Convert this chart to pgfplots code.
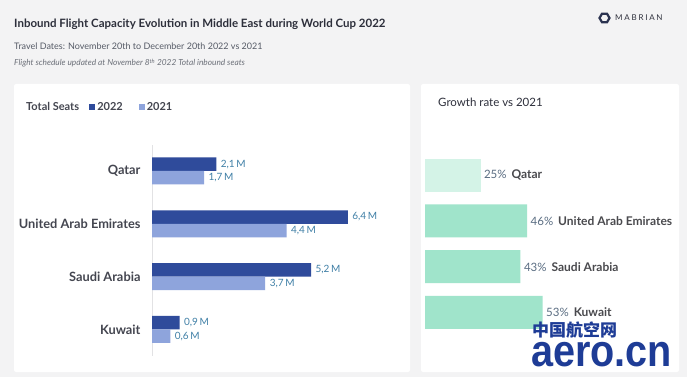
\documentclass[border=0pt]{standalone}
\usepackage{fontspec}
\setmainfont{Lato}
\newfontfamily\cjk{Noto Sans CJK SC}
\newfontfamily\wmfont{Liberation Sans}
\usepackage{pgfplots}
\pgfplotsset{compat=1.18}
\definecolor{bg}{HTML}{F3F3F4}
\definecolor{titlecol}{HTML}{2D2F3B}
\definecolor{subcol}{HTML}{555A66}
\definecolor{notecol}{HTML}{6B6F78}
\definecolor{darkbar}{HTML}{2F4B9B}
\definecolor{lightbar}{HTML}{8EA4DC}
\definecolor{valcol}{HTML}{3F7FA6}
\definecolor{tickcol}{HTML}{444650}
\definecolor{linecol}{HTML}{E2E2E4}
\definecolor{mintlight}{HTML}{D4F3E7}
\definecolor{mint}{HTML}{A0E4CB}
\definecolor{pctcol}{HTML}{5A6D82}
\definecolor{namecol}{HTML}{4A4A4E}
\definecolor{wmblue}{HTML}{1E3C96}
\definecolor{logocol}{HTML}{2B3350}
\begin{document}
\begin{tikzpicture}
\fill[bg] (0pt,0pt) rectangle (687pt,377pt);
\fill[white, rounded corners=2pt] (14pt,5pt) rectangle (410pt,293pt);
\fill[white, rounded corners=2pt] (421pt,5pt) rectangle (679pt,293pt);
% header
\node[anchor=base west, inner sep=0pt, text=titlecol, font=\fontsize{11.5}{14}\selectfont\bfseries] at (14pt,349.3pt) {Inbound Flight Capacity Evolution in Middle East during World Cup 2022};
\node[anchor=base west, inner sep=0pt, text=subcol, font=\fontsize{9}{11}\selectfont] at (14pt,327pt) {Travel Dates: November 20th to December 20th 2022 vs 2021};
\node[anchor=base west, inner sep=0pt, text=notecol, font=\fontsize{8.3}{10}\selectfont\itshape] at (14pt,311pt) {Flight schedule updated at November 8\textsuperscript{th} 2022 Total inbound seats};
% logo
\draw[logocol, line width=2.2pt] (609.5pt,359pt) -- (607pt,363.3pt) -- (602pt,363.3pt) -- (599.5pt,359pt) -- (602pt,354.7pt) -- (607pt,354.7pt) -- cycle;
\node[anchor=west, inner sep=0pt, text=titlecol, font=\fontsize{8}{9}\selectfont\addfontfeatures{LetterSpace=22}] at (615pt,359pt) {MABRIAN};
% panel titles
\node[anchor=base west, inner sep=0pt, text=tickcol, font=\fontsize{11}{13}\selectfont\bfseries] at (26pt,266pt) {Total Seats};
\node[anchor=base west, inner sep=0pt, text=titlecol, font=\fontsize{11.5}{13}\selectfont] at (438pt,270pt) {Growth rate vs 2021};
% left chart
\begin{axis}[
  at={(152pt,21.2pt)}, anchor=south west, scale only axis,
  width=244.8pt, height=211.2pt,
  xmin=0, xmax=8, ymin=-0.5, ymax=3.5,
  xbar, bar width=13.5pt,
  axis lines*=left, axis line style={-},
  x axis line style={draw=none}, y axis line style={draw=linecol},
  xtick=\empty,
  ytick={0,1,2,3},
  yticklabels={Kuwait,Saudi Arabia,United Arab Emirates,Qatar},
  major tick length=0pt,
  yticklabel style={font=\fontsize{12.8}{15}\selectfont\bfseries, text=tickcol, xshift=-8pt},
  clip=false,
  point meta=x,
  /pgf/number format/assume math mode=true,
  nodes near coords={\pgfmathprintnumber[fixed,fixed zerofill,precision=1,use comma,assume math mode=true]{\pgfplotspointmeta}\,M},
  every node near coord/.append style={font=\fontsize{10}{12}\selectfont, text=valcol, anchor=west, xshift=1pt},
  legend style={at={(-0.257,1.1757)}, anchor=west, draw=none, fill=none,
    font=\fontsize{11}{13}\selectfont\bfseries, text=tickcol,
    legend columns=2, /tikz/every even column/.append style={column sep=14pt},
    inner sep=0pt},
  legend image code/.code={\fill (0pt,-3pt) rectangle (6pt,3pt);},
]
\addplot[fill=darkbar, draw=none, bar shift=6.75pt] coordinates {(2.1,3) (6.4,2) (5.2,1) (0.9,0)};
\addlegendentry{2022}
\addplot[fill=lightbar, draw=none, bar shift=-6.75pt] coordinates {(1.7,3) (4.4,2) (3.7,1) (0.6,0)};
\addlegendentry{2021}
\end{axis}
% right chart
\begin{axis}[
  at={(425pt,41.6pt)}, anchor=south west, scale only axis,
  width=133.2pt, height=183.3pt,
  xmin=0, xmax=60, ymin=-0.5, ymax=3.5,
  hide axis, xbar, bar width=33pt, clip=false,
  point meta=explicit symbolic,
  nodes near coords={\textcolor{pctcol}{\pgfmathprintnumber[fixed,precision=0,assume math mode=true]{\pgfkeysvalueof{/data point/x}}\%}\hspace{5pt}\textcolor{namecol}{\fontsize{12}{14}\selectfont\bfseries\pgfplotspointmeta}},
  every node near coord/.append style={font=\fontsize{11.5}{14}\selectfont, anchor=west, xshift=0pt},
]
\addplot[fill=mintlight, draw=none, bar shift=0pt] coordinates {(25,3) [Qatar]};
\addplot[fill=mint, draw=none, bar shift=0pt] coordinates {(46,2) [United Arab Emirates] (43,1) [Saudi Arabia] (53,0) [Kuwait]};
\end{axis}
% watermark
\node[anchor=base west, inner sep=0pt, text=wmblue, font=\fontsize{17}{19}\cjk\bfseries] at (532pt,40pt) {中国航空网};
\node[anchor=base west, inner sep=0pt, text=wmblue, font=\fontsize{36}{40}\wmfont\bfseries] at (531pt,10pt) {\scalebox{1.1}[1.25]{aero.cn}};
\end{tikzpicture}
\end{document}
